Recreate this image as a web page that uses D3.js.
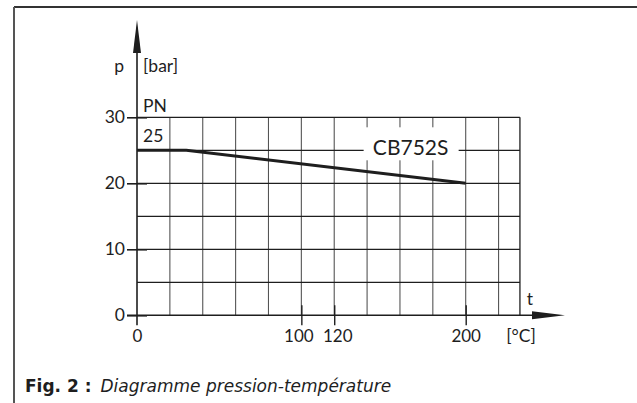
<!DOCTYPE html>
<html><head><meta charset="utf-8">
<script src="https://cdn.jsdelivr.net/npm/d3@7"></script>
<style>
html,body{margin:0;padding:0;background:#fff;}
svg{display:block;font-family:Lato,sans-serif;}
</style></head>
<body>
<script>
// ---- data ----
const seriesName = "CB752S";
const tempC = [0, 30, 200];          // °C
const pressureBar = [25, 25, 20];    // bar
const xTicks = [0, 100, 120, 200];
const yTicks = [0, 10, 20, 30];
const xGrid = [20, 40, 60, 80, 100, 120, 140, 160, 180, 200, 220];
const yGrid = [5, 10, 15, 20, 25, 30];
const xMaxGrid = 233;
const yMax = 30;

const W = 637, H = 403;
const FONT = "Lato, sans-serif";
const svg = d3.select("body").append("svg").attr("width", W).attr("height", H);

const x = d3.scaleLinear().domain([0, 200]).range([137, 465.7]);
const y = d3.scaleLinear().domain([0, 30]).range([315.3, 117.3]);

const ink = "#1e1e1e";

// frame
svg.append("line").attr("x1", 14).attr("x2", W).attr("y1", 7).attr("y2", 7)
  .attr("stroke", "#333").attr("stroke-width", 2);
svg.append("line").attr("x1", 14).attr("x2", 14).attr("y1", 7).attr("y2", H)
  .attr("stroke", "#555").attr("stroke-width", 2);

// grid
const g = svg.append("g");
g.selectAll("line.v").data(xGrid).join("line").attr("class", "v")
  .attr("x1", d => x(d)).attr("x2", d => x(d))
  .attr("y1", y(yMax)).attr("y2", y(0))
  .attr("stroke", "#555").attr("stroke-width", 1.1);
g.append("line").attr("x1", x(xMaxGrid)).attr("x2", x(xMaxGrid))
  .attr("y1", y(yMax)).attr("y2", y(0)).attr("stroke", ink).attr("stroke-width", 1.3);
g.selectAll("line.h").data(yGrid).join("line").attr("class", "h")
  .attr("x1", x(0)).attr("x2", x(xMaxGrid))
  .attr("y1", d => y(d)).attr("y2", d => y(d))
  .attr("stroke", ink).attr("stroke-width", 1.2);

// label box for series
const lx = x(166.5), ly = y(25);
svg.append("rect").attr("x", lx - 47).attr("y", ly - 23).attr("width", 95).attr("height", 33)
  .attr("fill", "#fff");
svg.append("text").attr("x", lx).attr("y", ly + 5).attr("text-anchor", "middle")
  .attr("font-size", 21).attr("fill", ink).text(seriesName);

// curve
const pts = tempC.map((t, i) => [t, pressureBar[i]]);
svg.append("path").datum(pts)
  .attr("d", d3.line().x(d => x(d[0])).y(d => y(d[1])))
  .attr("fill", "none").attr("stroke", ink).attr("stroke-width", 3);

// y axis
const yAxis = d3.axisLeft(y).tickValues(yTicks).tickSize(10).tickPadding(2)
  .tickFormat(d3.format("d"));
const ya = svg.append("g").attr("transform", `translate(${x(0)},0)`).call(yAxis);
ya.select(".domain").remove();
ya.selectAll(".tick line").attr("x1", 10).attr("x2", -10).attr("stroke", ink).attr("stroke-width", 1.6);
ya.selectAll(".tick text").attr("font-size", 17.5).attr("fill", ink).attr("font-family", FONT);
svg.append("line").attr("x1", x(0)).attr("x2", x(0)).attr("y1", 50).attr("y2", y(0) + 10)
  .attr("stroke", ink).attr("stroke-width", 1.6);
svg.append("path").attr("d", `M${x(0)},20 L${x(0) - 4},53 L${x(0) + 4},53 Z`).attr("fill", ink);

// x axis
const xAxis = d3.axisBottom(x).tickValues(xTicks).tickSize(10).tickPadding(5)
  .tickFormat(d3.format("d"));
const xa = svg.append("g").attr("transform", `translate(0,${y(0)})`).call(xAxis);
xa.select(".domain").remove();
xa.selectAll(".tick line").attr("y1", d => d === 0 ? 0 : -10).attr("y2", 10)
  .attr("stroke", ink).attr("stroke-width", 1.4).attr("opacity", d => d === 0 ? 0 : 1);
xa.selectAll(".tick text").attr("font-size", 17).attr("fill", ink).attr("font-family", FONT);
xa.selectAll(".tick").filter(d => d === 100).select("text").attr("dx", -3);
xa.selectAll(".tick").filter(d => d === 120).select("text").attr("dx", 3);
svg.append("line").attr("x1", x(0) - 10).attr("x2", 535).attr("y1", y(0)).attr("y2", y(0))
  .attr("stroke", ink).attr("stroke-width", 1.6);
svg.append("path").attr("d", `M565,${y(0)} L532,${y(0) - 4} L532,${y(0) + 4} Z`).attr("fill", ink);

// axis labels
const lab = (t, xx, yy, anchor, fs) => svg.append("text").attr("x", xx).attr("y", yy)
  .attr("text-anchor", anchor || "start").attr("font-size", fs || 17.5).attr("fill", ink).text(t);
lab("p", 124, 72, "end");
lab("[bar]", 143, 72);
lab("PN", 143, 112);
lab("25", 143, 142);
lab("t", 530, 305, "middle");
lab("[°C]", 521, 342, "middle");

// caption
const cap = svg.append("text").attr("x", 25).attr("y", 392).attr("font-size", 17)
  .attr("font-family", "DejaVu Sans, sans-serif").attr("fill", ink);
cap.append("tspan").attr("font-weight", "bold").text("Fig. 2 :");
cap.append("tspan").attr("dx", 9).attr("font-style", "italic").text("Diagramme pression-température");
</script>
</body></html>
